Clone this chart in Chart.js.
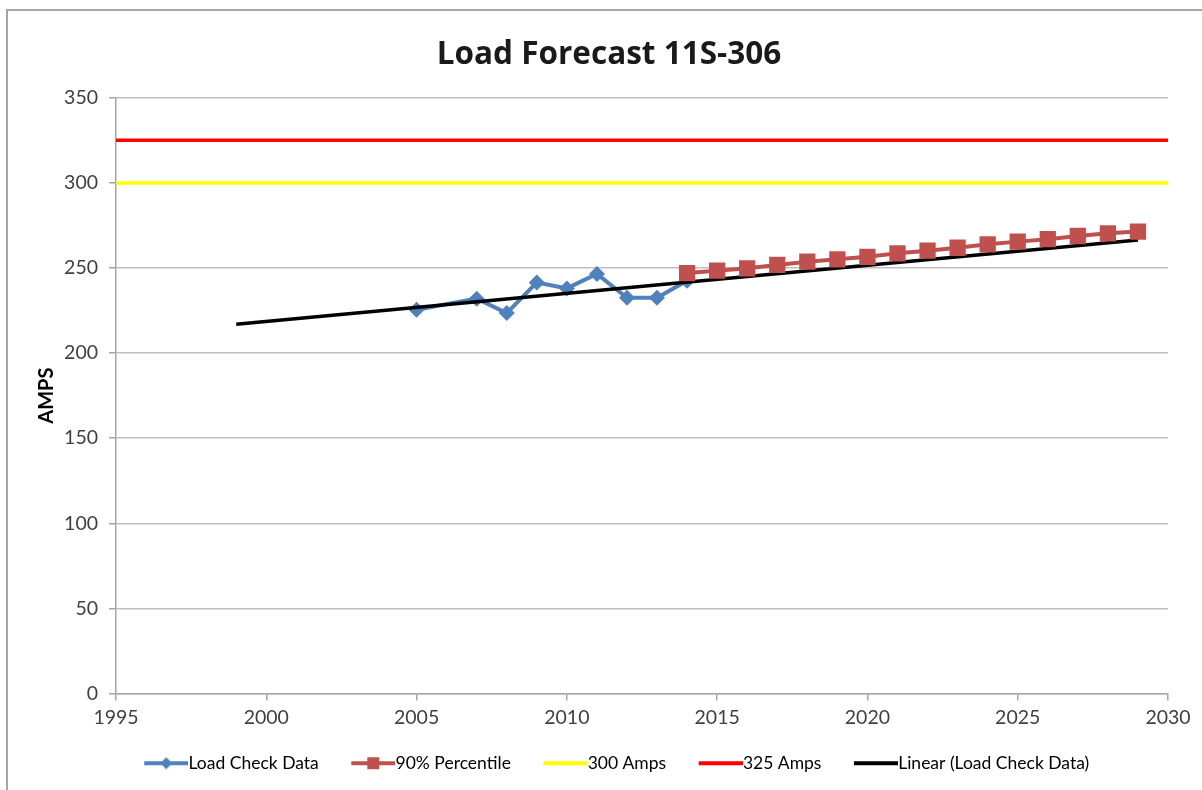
<!DOCTYPE html>
<html>
<head>
<meta charset="utf-8">
<script src="https://cdn.jsdelivr.net/npm/chart.js@4.4.1/dist/chart.umd.min.js"></script>
<style>
  html, body { margin: 0; padding: 0; background: #fff; overflow: hidden; }
  #frame {
    position: absolute; left: 6px; top: 9px; width: 1300px; height: 900px;
    border: 2px solid #a6a6a6; box-sizing: border-box;
  }
  #wrap { position: absolute; left: 0; top: 0; width: 1202px; height: 790px; }
</style>
</head>
<body>
<div id="frame"></div>
<div id="wrap"><canvas id="chart" width="1202" height="790"></canvas></div>
<script>
// measured load checks (amps)
const checkYears = [2005, 2007, 2008, 2009, 2010, 2011, 2012, 2013, 2014];
const checkAmps = [225.5, 232, 223.5, 241.5, 238, 246.5, 232.5, 232.5, 242.5];

// 90% percentile projection
const pctYears = [2014, 2015, 2016, 2017, 2018, 2019, 2020, 2021, 2022, 2023, 2024, 2025, 2026, 2027, 2028, 2029];
const pctAmps = [247, 248.4, 249.8, 251.8, 253.7, 255.1, 256.6, 258.6, 260.2, 261.9, 263.9, 265.5, 266.9, 268.8, 270.4, 271.4];

// limit lines
const limitYears = [1995, 2030];
const amps300 = [300, 300];
const amps325 = [325, 325];

// linear trend of the load checks
const trendYears = [1999, 2029];
const trendAmps = [217, 266.5];

const xTicks = [1995, 2000, 2005, 2010, 2015, 2020, 2025, 2030];
const yTicks = [0, 50, 100, 150, 200, 250, 300, 350];

const FONT = "Lato, 'Open Sans', sans-serif";
const LEGEND_SIZE = 17.5;
const GRID = '#bfbfbf';

function pairs(xs, ys) {
    return xs.map((x, i) => ({x: x, y: ys[i]}));
}

// line + marker swatch for the legend; the empty strip on the left
// spaces the entries apart
const ICON_BOX = 51;
function legendIcon(color, marker) {
    let c = document.createElement('canvas');
    c.width = ICON_BOX + LEGEND_SIZE;
    c.height = 18;
    let g = c.getContext('2d');
    let x0 = c.width - 44;
    g.strokeStyle = color;
    g.lineWidth = 4;
    g.beginPath();
    g.moveTo(x0, 9);
    g.lineTo(c.width, 9);
    g.stroke();
    g.fillStyle = color;
    let cx = x0 + 22;
    if (marker === 'diamond') {
        g.beginPath();
        g.moveTo(cx, 3);
        g.lineTo(cx + 6, 9);
        g.lineTo(cx, 15);
        g.lineTo(cx - 6, 9);
        g.closePath();
        g.fill();
    } else if (marker === 'square') {
        g.fillRect(cx - 6, 3, 12, 12);
    }
    return c;
}

let datasets = [
    {
        label: 'Load Check Data',
        data: pairs(checkYears, checkAmps),
        borderColor: '#4f81bd',
        backgroundColor: '#4f81bd',
        borderWidth: 4,
        pointStyle: 'rectRot',
        pointRadius: 8,
        pointBorderWidth: 0,
        legendIcon: legendIcon('#4f81bd', 'diamond'),
        order: 2
    },
    {
        label: '90% Percentile',
        data: pairs(pctYears, pctAmps),
        borderColor: '#c0504d',
        backgroundColor: '#c0504d',
        borderWidth: 4,
        pointStyle: 'rect',
        pointRadius: 11.5,
        pointBorderWidth: 0,
        legendIcon: legendIcon('#c0504d', 'square'),
        order: 0
    },
    {
        label: '300 Amps',
        data: pairs(limitYears, amps300),
        borderColor: '#ffff00',
        backgroundColor: '#ffff00',
        borderWidth: 3.5,
        pointRadius: 0,
        legendIcon: legendIcon('#ffff00'),
        order: 3
    },
    {
        label: '325 Amps',
        data: pairs(limitYears, amps325),
        borderColor: '#ff0000',
        backgroundColor: '#ff0000',
        borderWidth: 3.5,
        pointRadius: 0,
        legendIcon: legendIcon('#ff0000'),
        order: 3
    },
    {
        label: 'Linear (Load Check Data)',
        data: pairs(trendYears, trendAmps),
        borderColor: '#000000',
        backgroundColor: '#000000',
        borderWidth: 3.5,
        pointRadius: 0,
        legendIcon: legendIcon('#000000'),
        order: 1
    }
];

let configAxisX = {
    type: 'linear',
    min: 1995,
    max: 2030,
    afterBuildTicks: function(scale) {
        scale.ticks = xTicks.map(v => ({value: v}));
    },
    afterFit: function(scale) {
        scale.height = 44;
    },
    ticks: {
        padding: 6,
        color: '#404040',
        font: {family: FONT, size: 19.5},
        callback: function(value) {
            return String(value);
        }
    },
    grid: {
        drawOnChartArea: false,
        drawTicks: true,
        tickLength: 7,
        tickColor: '#a6a6a6',
        lineWidth: 1.5
    },
    border: {color: '#a6a6a6', width: 1.5}
};

let configAxisY = {
    type: 'linear',
    min: 0,
    max: 350,
    afterBuildTicks: function(scale) {
        scale.ticks = yTicks.map(v => ({value: v}));
    },
    afterFit: function(scale) {
        scale.width = 100;
    },
    ticks: {
        padding: 11,
        color: '#404040',
        font: {family: FONT, size: 19.5},
        callback: function(value) {
            return String(value);
        }
    },
    grid: {
        color: GRID,
        lineWidth: 1.5,
        tickLength: 7,
        tickColor: '#a6a6a6'
    },
    border: {color: '#a6a6a6', width: 1.5},
    title: {
        display: true,
        text: 'AMPS',
        color: '#000',
        font: {family: FONT, size: 20, weight: 'bold'},
        padding: {top: 19, bottom: 0}
    }
};

// empty strip on the right of the plot
let configSpacer = {
    type: 'linear',
    position: 'right',
    display: true,
    ticks: {display: false},
    grid: {display: false},
    border: {display: false},
    afterFit: function(scale) {
        scale.width = 34;
    }
};

new Chart(document.getElementById('chart'), {
    type: 'line',
    data: {datasets: datasets},
    options: {
        responsive: false,
        animation: false,
        layout: {padding: {left: 16, right: 0, top: 0, bottom: 8}},
        elements: {line: {tension: 0, fill: false}},
        scales: {
            x: configAxisX,
            y: configAxisY,
            spacer: configSpacer
        },
        plugins: {
            tooltip: {enabled: false},
            title: {
                display: true,
                text: 'Load Forecast 11S-306',
                color: '#1a1a1a',
                font: {family: "'Open Sans', sans-serif", size: 31.5, weight: 'bold'},
                padding: {top: 36, bottom: 24}
            },
            legend: {
                display: true,
                position: 'bottom',
                labels: {
                    usePointStyle: true,
                    pointStyleWidth: ICON_BOX,
                    padding: 17,
                    color: '#262626',
                    font: {family: FONT, size: LEGEND_SIZE},
                    generateLabels: function(chart) {
                        return chart.data.datasets.map((ds, i) => ({
                            text: ds.label,
                            pointStyle: ds.legendIcon,
                            fillStyle: ds.borderColor,
                            strokeStyle: ds.borderColor,
                            lineWidth: 0,
                            hidden: false,
                            datasetIndex: i
                        }));
                    }
                }
            }
        }
    }
});
</script>
</body>
</html>
